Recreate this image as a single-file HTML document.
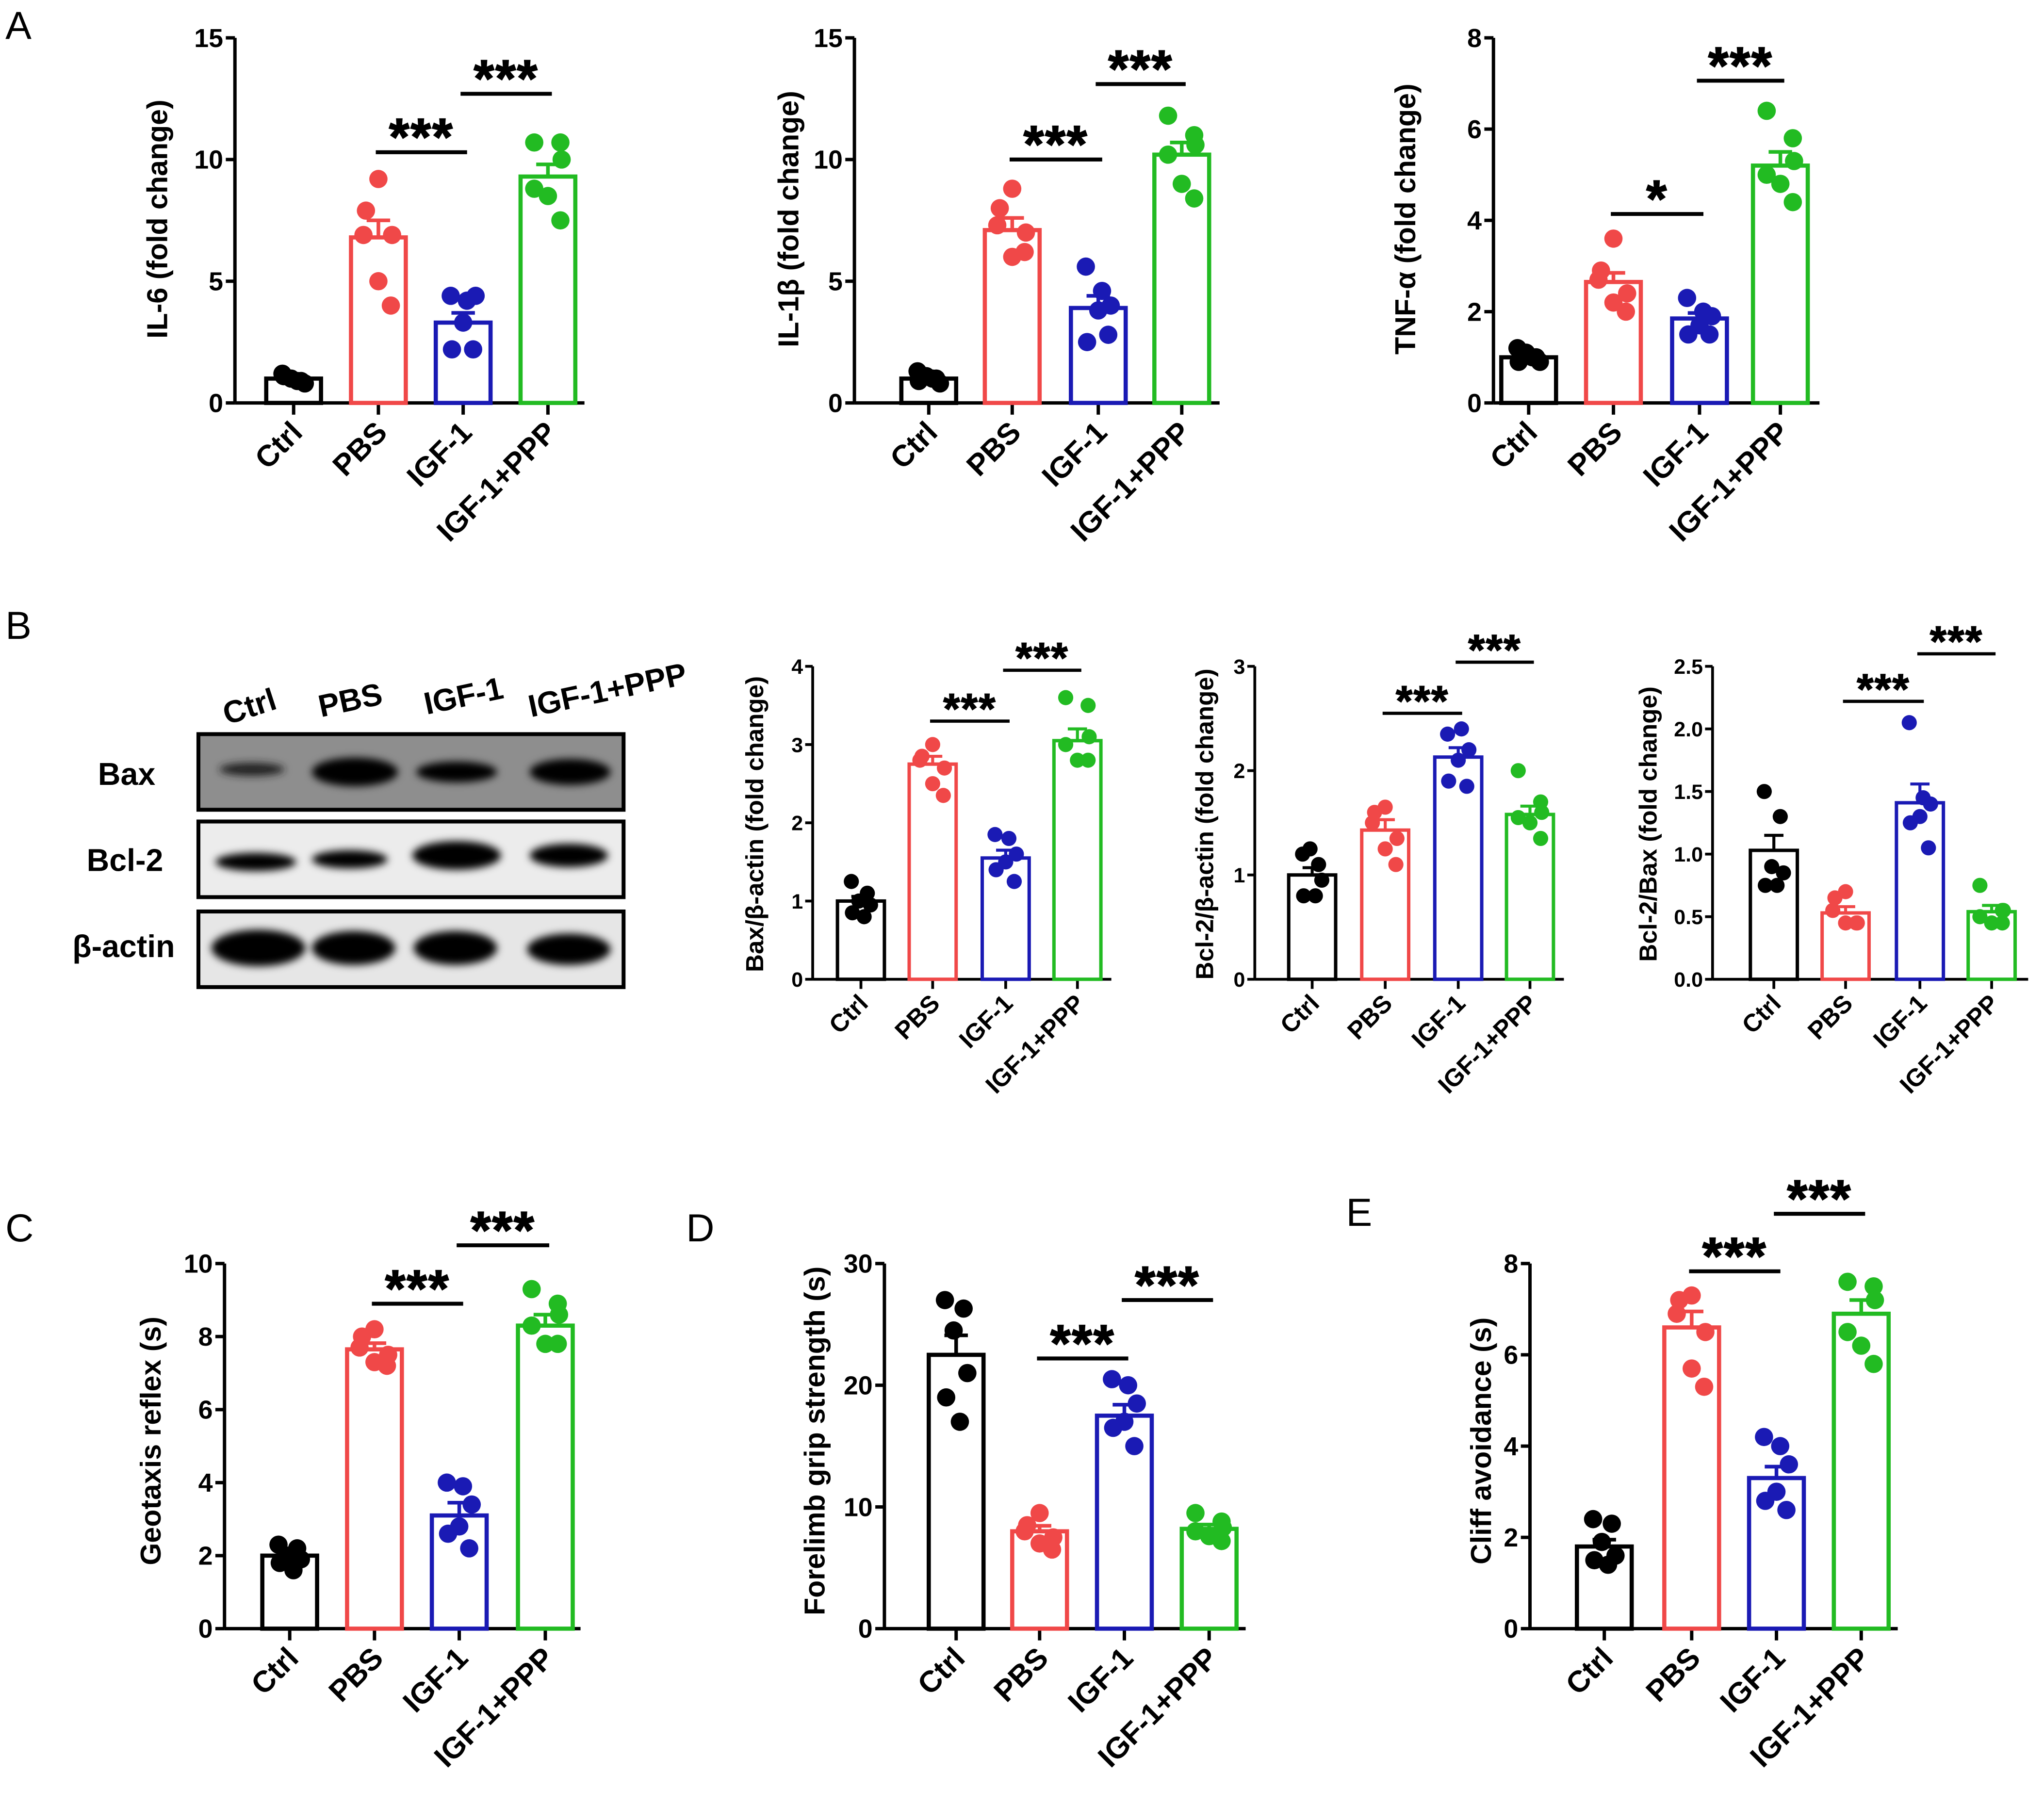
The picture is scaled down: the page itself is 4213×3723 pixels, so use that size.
<!DOCTYPE html>
<html><head><meta charset="utf-8">
<style>
html,body{margin:0;padding:0;background:#fff;}
svg{display:block;font-family:"Liberation Sans",Arial,sans-serif;font-weight:bold;}
</style></head>
<body>
<svg id="fig" width="4213" height="3723" viewBox="0 0 1567 1385" xmlns="http://www.w3.org/2000/svg">
<rect width="1567" height="1385" fill="#fff"/>
<g font-weight="normal" font-size="30" fill="#000">
<text x="4" y="30">A</text>
<text x="4" y="490">B</text>
<text x="4" y="952">C</text>
<text x="526" y="952">D</text>
<text x="1032" y="940">E</text>
</g>
<g id="blot">
<defs>
<filter id="blur" x="-20%" y="-50%" width="140%" height="200%"><feGaussianBlur stdDeviation="3"/></filter>
</defs>
<rect x="152" y="563" width="326" height="58" fill="#8e8e8e" stroke="#000" stroke-width="3"/>
<rect x="152" y="630" width="326" height="58" fill="#ececec" stroke="#000" stroke-width="3"/>
<rect x="152" y="699" width="326" height="58" fill="#e6e6e6" stroke="#000" stroke-width="3"/>
<g filter="url(#blur)" fill="#000">
<ellipse cx="193" cy="590" rx="25" ry="5" fill="#222"/>
<ellipse cx="272" cy="592" rx="33" ry="11"/>
<ellipse cx="350" cy="592" rx="31" ry="8"/>
<ellipse cx="437" cy="592" rx="31" ry="10"/>
<ellipse cx="196" cy="661" rx="31" ry="7"/>
<ellipse cx="268" cy="659" rx="29" ry="7"/>
<ellipse cx="350" cy="656" rx="34" ry="11"/>
<ellipse cx="436" cy="656" rx="30" ry="9"/>
<ellipse cx="198" cy="727" rx="36" ry="14"/>
<ellipse cx="271" cy="727" rx="32" ry="13"/>
<ellipse cx="349" cy="727" rx="32" ry="13"/>
<ellipse cx="436" cy="728" rx="32" ry="12"/>
</g>
<g font-size="24" text-anchor="end">
<text x="119" y="602">Bax</text>
<text x="125" y="668">Bcl-2</text>
<text x="134" y="734">β-actin</text>
</g>
<g font-size="24">
<text transform="translate(174,556) rotate(-18)">Ctrl</text>
<text transform="translate(246,550) rotate(-12)">PBS</text>
<text transform="translate(327,548) rotate(-12)">IGF-1</text>
<text transform="translate(407,550) rotate(-12)">IGF-1+PPP</text>
</g>
</g>
</svg>
<script>
// shared categories
const categories = ["Ctrl","PBS","IGF-1","IGF-1+PPP"];
const colors = ["#000000","#f04848","#1a1ab4","#22bb22"];

// ---- A1 IL-6
const a1Means = [1.0, 6.8, 3.3, 9.3];
const a1Sems = [0.1, 0.7, 0.4, 0.5];
const a1Dots = [[1.2,0.9,1.0,0.8,1.1,0.9],[9.2,7.9,6.9,6.9,5.0,4.0],[4.4,4.2,4.4,3.3,2.2,2.2],[10.7,10.7,10.0,8.8,8.5,7.5]];
const a1Ticks = [0,5,10,15];
const a1Sig = [[1,2,10.3,"***"],[2,3,12.7,"***"]];
// ---- A2 IL-1b
const a2Means = [1.0, 7.1, 3.9, 10.2];
const a2Sems = [0.1, 0.5, 0.5, 0.5];
const a2Dots = [[1.3,1.0,1.1,0.8,0.9,1.0],[8.8,8.0,7.3,7.0,6.0,6.2],[5.6,4.6,4.0,3.8,2.5,2.8],[11.8,11.0,10.6,10.2,9.0,8.4]];
const a2Ticks = [0,5,10,15];
const a2Sig = [[1,2,10.0,"***"],[2,3,13.1,"***"]];
// ---- A3 TNF-a
const a3Means = [1.0, 2.65, 1.85, 5.2];
const a3Sems = [0.06, 0.2, 0.12, 0.3];
const a3Dots = [[1.2,1.0,1.1,0.9,0.9,1.0],[3.6,2.9,2.7,2.4,2.2,2.0],[2.3,2.0,1.9,1.7,1.5,1.5],[6.4,5.8,5.3,5.0,4.8,4.4]];
const a3Ticks = [0,2,4,6,8];
const a3Sig = [[1,2,4.14,"*"],[2,3,7.06,"***"]];
// ---- B2 Bax
const b2Means = [1.0, 2.75, 1.55, 3.05];
const b2Sems = [0.06, 0.1, 0.1, 0.15];
const b2Dots = [[1.25,1.1,1.0,0.95,0.85,0.8],[3.0,2.85,2.8,2.7,2.5,2.35],[1.85,1.8,1.6,1.5,1.4,1.25],[3.6,3.5,3.1,3.0,2.8,2.8]];
const b2Ticks = [0,1,2,3,4];
const b2Sig = [[1,2,3.3,"***"],[2,3,3.95,"***"]];
// ---- B3 Bcl-2
const b3Means = [1.0, 1.43, 2.13, 1.58];
const b3Sems = [0.07, 0.1, 0.09, 0.08];
const b3Dots = [[1.2,1.1,1.25,0.95,0.8,0.8],[1.65,1.6,1.5,1.35,1.25,1.1],[2.35,2.4,2.2,2.1,1.9,1.85],[2.0,1.7,1.6,1.55,1.5,1.35]];
const b3Ticks = [0,1,2,3];
const b3Sig = [[1,2,2.55,"***"],[2,3,3.04,"***"]];
// ---- B4 Bcl-2/Bax
const b4Means = [1.03, 0.53, 1.41, 0.54];
const b4Sems = [0.12, 0.05, 0.15, 0.05];
const b4Dots = [[1.5,1.3,0.9,0.85,0.75,0.75],[0.7,0.65,0.55,0.45,0.45,0.45],[2.05,1.45,1.4,1.3,1.25,1.05],[0.75,0.55,0.55,0.5,0.45,0.45]];
const b4Ticks = [0,0.5,1.0,1.5,2.0,2.5];
const b4TickLabels = ["0.0","0.5","1.0","1.5","2.0","2.5"];
const b4Sig = [[1,2,2.22,"***"],[2,3,2.6,"***"]];
// ---- C Geotaxis
const cMeans = [2.0, 7.65, 3.1, 8.3];
const cSems = [0.12, 0.17, 0.35, 0.3];
const cDots = [[2.3,2.2,2.0,1.9,1.8,1.6],[8.2,8.0,7.7,7.5,7.3,7.2],[4.0,3.9,3.4,2.8,2.6,2.2],[9.3,8.9,8.6,8.3,7.8,7.8]];
const cTicks = [0,2,4,6,8,10];
const cSig = [[1,2,8.9,"***"],[2,3,10.5,"***"]];
// ---- D Grip
const dMeans = [22.5, 8.0, 17.5, 8.2];
const dSems = [1.6, 0.45, 0.9, 0.35];
const dDots = [[27,26.3,24.5,21,19,17],[9.5,8.5,8.0,7.5,7.0,6.5],[20.5,20,18.5,17,16.5,15],[9.5,8.8,8.3,8.0,7.6,7.2]];
const dTicks = [0,10,20,30];
const dSig = [[1,2,22.2,"***"],[2,3,27.0,"***"]];
// ---- E Cliff
const eMeans = [1.8, 6.6, 3.3, 6.9];
const eSems = [0.15, 0.35, 0.25, 0.3];
const eDots = [[2.4,2.3,1.9,1.6,1.5,1.4],[7.3,7.2,6.9,6.5,5.7,5.3],[4.2,4.0,3.6,3.0,2.8,2.6],[7.6,7.5,7.2,6.5,6.2,5.8]];
const eTicks = [0,2,4,6,8];
const eSig = [[1,2,7.83,"***"],[2,3,9.09,"***"]];

const NS = "http://www.w3.org/2000/svg";
const svg = document.getElementById("fig");
function mk(tag, attrs, parent){
  const e = document.createElementNS(NS, tag);
  for (const k in attrs) e.setAttribute(k, attrs[k]);
  (parent||svg).appendChild(e);
  return e;
}
const jit = [[-9,6,-2,9,-8,3],[0,-10,-12,11,0,10],[-10,3,10,0,-9,8],[-11,10,11,-11,0,10]];

function chart(cfg){
  const g = mk("g", {});
  
  
  const max = cfg.ticks[cfg.ticks.length-1];
  const y = v => cfg.y0 - (v/max)*(cfg.y0-cfg.yTop);
  const x = i => cfg.bars[i];
  const s = cfg.sc;
  const ax = mk("line",{x1:cfg.ax,y1:cfg.y0,x2:cfg.ax,y2:cfg.yTop,stroke:"#000","stroke-width":2.6*s},g);
  
  
  const xa = mk("line",{x1:cfg.ax,y1:cfg.y0,x2:cfg.xEnd,y2:cfg.y0,stroke:"#000","stroke-width":2.6*s},g);
  
  
  cfg.ticks.forEach((t,i)=>{
    mk("line",{x1:cfg.ax-7*s,x2:cfg.ax,y1:y(t),y2:y(t),stroke:"#000","stroke-width":2.6*s},g);
    const tl = mk("text",{x:cfg.ax-9*s,y:y(t)+7*s,"text-anchor":"end","font-size":cfg.tickSize},g);
    tl.textContent = cfg.tickLabels ? cfg.tickLabels[i] : t;
    
    
  });
  const tt = mk("text",{transform:`translate(${cfg.titleX},${cfg.titleY}) rotate(-90)`,"text-anchor":"middle","font-size":cfg.titleSize},g);
  tt.textContent = cfg.title;
  
  
  const bw = cfg.bw;
  categories.forEach((c,i)=>{
    mk("line",{x1:x(i),x2:x(i),y1:cfg.y0,y2:cfg.y0+9*s,stroke:"#000","stroke-width":2.6*s},g);
    const lab = mk("text",{transform:`translate(${x(i)+8*s},${cfg.y0+24*s}) rotate(-45)`,"text-anchor":"end","font-size":cfg.labSize},g);
    lab.textContent = c;
    
    
    const m = cfg.means[i], se = cfg.sems[i];
    const bar = mk("rect",{x:x(i)-bw/2,y:y(m),width:bw,height:cfg.y0-y(m),fill:"none",stroke:colors[i],"stroke-width":3.2*s},g);
    
    
    const eb = mk("path",{d:`M${x(i)},${y(m)}V${y(m+se)}M${x(i)-9*s},${y(m+se)}H${x(i)+9*s}`,stroke:colors[i],"stroke-width":2.8*s,fill:"none"},g);
    
    
    cfg.dots[i].forEach((v,k)=>{
      const d = mk("circle",{cx:x(i)+jit[i][k]*bw/44,cy:y(v),r:cfg.r,fill:colors[i]},g);
      
      
    });
  });
  cfg.sig.forEach(sg=>{
    const x1 = x(sg[0])-2, x2 = x(sg[1])+3, yy = y(sg[2]);
    const l = mk("line",{x1:x1,x2:x2,y1:yy,y2:yy,stroke:"#000","stroke-width":3*s},g);
    
    
    const st = mk("text",{x:(x1+x2)/2,y:yy+2*s,"text-anchor":"middle","font-size":40*s,"letter-spacing":1*s,stroke:"#000","stroke-width":0.8*s},g);
    st.textContent = sg[3];
    
    
  });
}
const A = {y0:309,yTop:29,sc:1,bw:42,r:7,titleSize:22,tickSize:20,labSize:23};
const B = {y0:751,yTop:511,sc:0.82,bw:36,r:5.8,titleSize:19,tickSize:16,labSize:19};
const C = {y0:1249,yTop:969,sc:1,bw:42,r:7,titleSize:22,tickSize:20,labSize:23};
chart(Object.assign({},A,{name:"chart-il6",ax:180,xEnd:448,bars:[225,290,355,420],means:a1Means,sems:a1Sems,dots:a1Dots,ticks:a1Ticks,sig:a1Sig,title:"IL-6 (fold change)",titleX:128,titleY:168}));
chart(Object.assign({},A,{name:"chart-il1b",ax:655,xEnd:935,bars:[712,776,842,906],means:a2Means,sems:a2Sems,dots:a2Dots,ticks:a2Ticks,sig:a2Sig,title:"IL-1β (fold change)",titleX:612,titleY:168}));
chart(Object.assign({},A,{name:"chart-tnfa",ax:1145,xEnd:1395,bars:[1172,1237,1303,1365],means:a3Means,sems:a3Sems,dots:a3Dots,ticks:a3Ticks,sig:a3Sig,title:"TNF-α (fold change)",titleX:1085,titleY:168}));
chart(Object.assign({},B,{name:"chart-bax",ax:623,xEnd:852,bars:[660,715,771,826],means:b2Means,sems:b2Sems,dots:b2Dots,ticks:b2Ticks,sig:b2Sig,title:"Bax/β-actin (fold change)",titleX:585,titleY:632}));
chart(Object.assign({},B,{name:"chart-bcl2",ax:962,xEnd:1199,bars:[1006,1062,1118,1173],means:b3Means,sems:b3Sems,dots:b3Dots,ticks:b3Ticks,sig:b3Sig,title:"Bcl-2/β-actin (fold change)",titleX:930,titleY:632}));
chart(Object.assign({},B,{name:"chart-bcl2-bax",ax:1313,xEnd:1555,bars:[1360,1415,1472,1527],means:b4Means,sems:b4Sems,dots:b4Dots,ticks:b4Ticks,tickLabels:b4TickLabels,sig:b4Sig,title:"Bcl-2/Bax (fold change)",titleX:1270,titleY:632}));
chart(Object.assign({},C,{name:"chart-geotaxis",ax:172,xEnd:445,bars:[222,287,352,418],means:cMeans,sems:cSems,dots:cDots,ticks:cTicks,sig:cSig,title:"Geotaxis reflex (s)",titleX:123,titleY:1105}));
chart(Object.assign({},C,{name:"chart-grip",ax:678,xEnd:955,bars:[733,797,862,927],means:dMeans,sems:dSems,dots:dDots,ticks:dTicks,sig:dSig,title:"Forelimb grip strength (s)",titleX:632,titleY:1105}));
chart(Object.assign({},C,{name:"chart-cliff",ax:1173,xEnd:1455,bars:[1230,1297,1362,1427],means:eMeans,sems:eSems,dots:eDots,ticks:eTicks,sig:eSig,title:"Cliff avoidance (s)",titleX:1143,titleY:1105}));
</script>
</body></html>
